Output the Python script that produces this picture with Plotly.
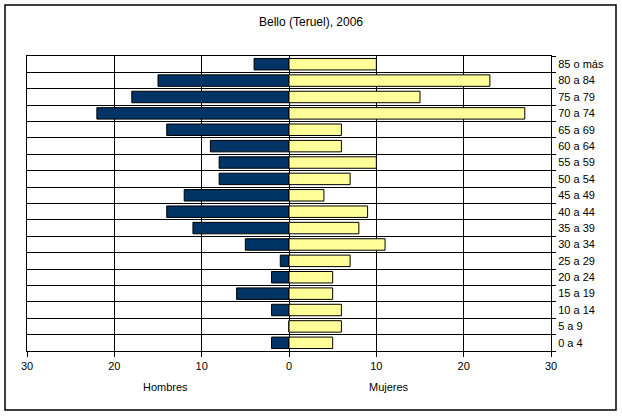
import plotly.graph_objects as go

categories = ["0 a 4", "5 a 9", "10 a 14", "15 a 19", "20 a 24", "25 a 29", "30 a 34",
              "35 a 39", "40 a 44", "45 a 49", "50 a 54", "55 a 59", "60 a 64", "65 a 69",
              "70 a 74", "75 a 79", "80 a 84", "85 o más"]
hombres = [2, 0, 2, 6, 2, 1, 5, 11, 14, 12, 8, 8, 9, 14, 22, 18, 15, 4]
mujeres = [5, 6, 6, 5, 5, 7, 11, 8, 9, 4, 7, 10, 6, 6, 27, 15, 23, 10]
tick_vals = [-30, -20, -10, 0, 10, 20, 30]
tick_text = ["30", "20", "10", "0", "10", "20", "30"]

font = "Liberation Sans, Arial, sans-serif"

fig = go.Figure()
fig.add_trace(go.Bar(
    y=categories, x=[-v for v in hombres], orientation="h", name="Hombres",
    marker=dict(color="#003366", line=dict(color="#000000", width=1)),
    width=0.7,
))
fig.add_trace(go.Bar(
    y=categories, x=mujeres, orientation="h", name="Mujeres",
    marker=dict(color="#FFFF99", line=dict(color="#000000", width=1)),
    width=0.7,
))

fig.update_layout(
    width=622, height=416,
    margin=dict(l=27, r=71, t=56, b=65),
    barmode="overlay",
    showlegend=False,
    paper_bgcolor="white", plot_bgcolor="white",
    font=dict(family=font, size=11, color="black"),
    title=dict(text="Bello (Teruel), 2006", x=0.5, xanchor="center",
               y=1 - 22 / 416, yanchor="middle", font=dict(size=12, family=font)),
    xaxis=dict(range=[-30, 30], tickvals=tick_vals, ticktext=tick_text,
               showgrid=True, gridcolor="black", gridwidth=1,
               zeroline=True, zerolinecolor="black", zerolinewidth=1,
               showline=True, linecolor="black", linewidth=1, mirror=True,
               ticks="outside", ticklen=5, tickcolor="black",
               tickfont=dict(size=11), fixedrange=True),
    yaxis=dict(type="category", categoryorder="array", categoryarray=categories,
               side="right", tickson="boundaries",
               showgrid=True, gridcolor="black", gridwidth=1,
               showline=True, linecolor="black", linewidth=1, mirror=True,
               ticks="outside", ticklen=4, tickcolor="black", ticklabelstandoff=4,
               tickfont=dict(size=11), fixedrange=True),
    annotations=[
        dict(text="Hombres", x=-14.1, xref="x", y=-36 / 295, yref="paper",
             showarrow=False, xanchor="center", yanchor="middle", font=dict(size=11)),
        dict(text="Mujeres", x=11.5, xref="x", y=-36 / 295, yref="paper",
             showarrow=False, xanchor="center", yanchor="middle", font=dict(size=11)),
    ],
    shapes=[
        dict(type="rect", xref="paper", yref="paper",
             x0=(5 - 27) / 524, x1=(616 - 27) / 524,
             y0=(351 - 410) / 295, y1=(351 - 5) / 295,
             line=dict(color="black", width=1.5), fillcolor="rgba(0,0,0,0)", layer="below"),
    ],
)

fig.write_html("out.html", config={"displayModeBar": False},
               post_script="document.body.style.margin='0';document.body.style.overflow='hidden';")
